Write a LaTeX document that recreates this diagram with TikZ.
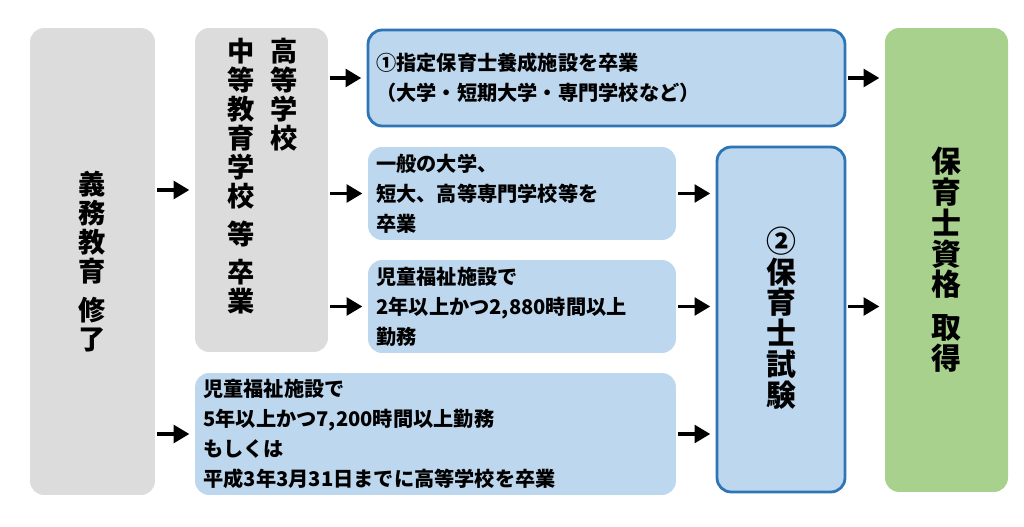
\documentclass[tikz,border=0pt]{standalone}
\usepackage{fontspec}
\setmainfont{Noto Sans CJK JP}
\usetikzlibrary{arrows.meta, positioning}
\definecolor{grayfill}{HTML}{DCDCDC}
\definecolor{bluefill}{HTML}{BDD7EE}
\definecolor{blueline}{HTML}{2E75B6}
\definecolor{greenfill}{HTML}{A9D18E}
\tikzset{
    box/.style={rectangle, rounded corners=8pt, inner sep=0pt},
    graybox/.style={box, fill=grayfill},
    bluebox/.style={box, fill=bluefill},
    keybox/.style={box, fill=bluefill, draw=blueline, line width=1.6pt},
    greenbox/.style={box, fill=greenfill},
    txt/.style={anchor=west, align=left, font=\fontsize{11.5}{17}\selectfont\bfseries, inner sep=0pt},
    vtxt/.style={align=center, inner sep=0pt},
    arrow/.style={line width=2.2pt, -{Triangle[length=9pt, width=10pt]}, shorten <=1pt, shorten >=3pt}
}
\begin{document}
\begin{tikzpicture}[x=0.02cm, y=-0.02cm]
    \useasboundingbox (0,0) rectangle (1024,527);
    % boxes
    \node[graybox, minimum width=2.5cm, minimum height=9.34cm] (gov) at (92.5,261.5) {};
    \node[graybox, minimum width=2.66cm, minimum height=6.48cm] (hs) at (261.5,190) {};
    \node[keybox, minimum width=9.54cm, minimum height=1.92cm] (b1) at (606.5,78) {};
    \node[bluebox, minimum width=6.16cm, minimum height=1.86cm] (b2) at (522,193.5) {};
    \node[bluebox, minimum width=6.16cm, minimum height=1.86cm] (b3) at (522,306.5) {};
    \node[bluebox, minimum width=9.62cm, minimum height=2.44cm] (b4) at (435.5,434) {};
    \node[keybox, minimum width=2.56cm, minimum height=6.9cm] (exam) at (781,319.5) {};
    \node[greenbox, minimum width=2.46cm, minimum height=9.28cm] (cert) at (946.5,260) {};

    % vertical texts
    \node[vtxt, font=\fontsize{15.5}{16.5}\selectfont\bfseries] (govtxt) at (gov) {義\\務\\教\\育\\[6pt]修\\了};
    \node[vtxt, anchor=north, font=\fontsize{15.5}{16.5}\selectfont\bfseries] (hstxt1) at (284,38) {高\\等\\学\\校};
    \node[vtxt, anchor=north, font=\fontsize{15.5}{16.5}\selectfont\bfseries] (hstxt2) at (241,38) {中\\等\\教\\育\\学\\校\\[5pt]等\\[5pt]卒\\業};
    \node[vtxt, font=\fontsize{17}{17.5}\selectfont\bfseries] (examtxt) at (781,318) {②\\保\\育\\士\\試\\験};
    \node[vtxt, font=\fontsize{17}{17.5}\selectfont\bfseries] (certtxt) at (946.5,260) {保\\育\\士\\資\\格\\[7pt]取\\得};

    % box texts
    \node[txt] (b1txt) at (376,78) {①指定保育士養成施設を卒業\\（大学・短期大学・専門学校など）};
    \node[txt] (b2txt) at (376,193.5) {一般の大学、\\短大、高等専門学校等を\\卒業};
    \node[txt] (b3txt) at (376,306.5) {児童福祉施設で\\2年以上かつ2,880時間以上\\勤務};
    \node[txt] (b4txt) at (203,434) {児童福祉施設で\\5年以上かつ7,200時間以上勤務\\もしくは\\平成3年3月31日までに高等学校を卒業};

    % arrows
    \draw[arrow] (gov.east |- hs.west) -- (hs);
    \draw[arrow] (gov.east |- b4.west) -- (b4);
    \draw[arrow] (hs.east |- b1.west) -- (b1);
    \draw[arrow] (hs.east |- b2.west) -- (b2);
    \draw[arrow] (hs.east |- b3.west) -- (b3);
    \draw[arrow] (b1) -- (cert.west |- b1.east);
    \draw[arrow] (b2) -- (exam.west |- b2.east);
    \draw[arrow] (b3) -- (exam.west |- b3.east);
    \draw[arrow] (b4) -- (exam.west |- b4.east);
    \draw[arrow] (exam.east |- b3.east) -- (cert.west |- b3.east);
\end{tikzpicture}
\end{document}
